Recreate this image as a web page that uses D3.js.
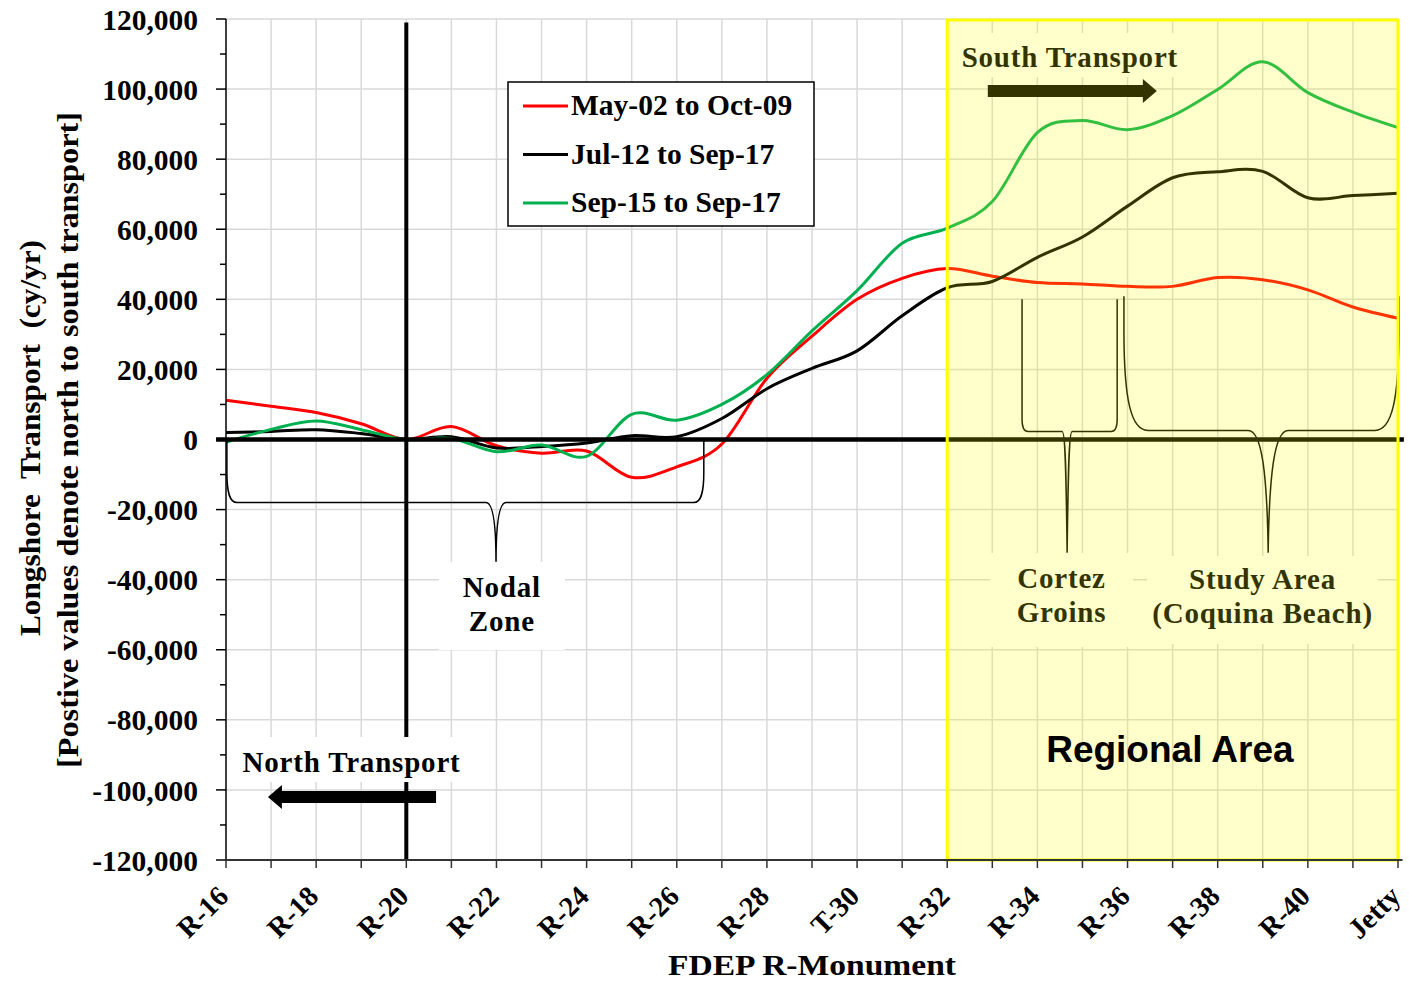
<!DOCTYPE html>
<html>
<head>
<meta charset="utf-8">
<script src="https://cdn.jsdelivr.net/npm/d3@7"></script>
<style>
  body { margin: 0; background: #fff; }
  svg text { font-family: "Liberation Serif", "Times New Roman", serif; font-weight: bold; }
</style>
</head>
<body>
<svg id="chart" width="1409" height="983"></svg>
<script>
// monuments along the shore, north to south
const monuments = ["R-16", "R-17", "R-18", "R-19", "R-20", "R-21", "R-22", "R-23", "R-24", "R-25",
    "R-26", "R-27", "R-28", "R-29", "T-30", "R-31", "R-32", "R-33", "R-34", "R-35",
    "R-36", "R-37", "R-38", "R-39", "R-40", "R-41", "Jetty"];

// longshore transport, cy/yr
const may02Oct09 = [11200, 9500, 7700, 4500, 0, 3700, -1800, -3900, -3300, -10800,
    -7800, -1300, 17500, 29500, 40000, 46000, 48800, 46600, 44800, 44400,
    43700, 43700, 46200, 45600, 42700, 37800, 34600];
const jul12Sep17 = [2000, 2300, 2800, 1700, 0, 800, -2400, -2000, -1000, 1100,
    800, 6000, 14500, 20300, 25300, 35300, 43300, 45100, 52000, 57800,
    66600, 74700, 76400, 76500, 69000, 69600, 70300];
const sep15Sep17 = [-800, 2900, 5300, 2800, 0, 300, -3500, -1600, -4800, 7200,
    5500, 10000, 18500, 31000, 42500, 56000, 60300, 67900, 87600, 91000,
    88400, 92400, 99900, 107800, 99000, 93400, 89000];

const seriesNames = ["May-02 to Oct-09", "Jul-12 to Sep-17", "Sep-15 to Sep-17"];
const seriesColors = ["#ff0000", "#000000", "#00b050"];
const yTickValues = d3.range(-120000, 120001, 20000);
const yMinorValues = d3.range(-110000, 120000, 20000);

const width = 1409;
const height = 983;
const margin = {top: 19, right: 11, bottom: 123, left: 226};

const svg = d3.select("#chart");
svg.append("rect").attr("width", width).attr("height", height).attr("fill", "#fff");

const x = d3.scalePoint()
    .domain(monuments)
    .range([margin.left, width - margin.right]);

// same positions, but by index, for the annotations that sit between monuments
const xi = d3.scaleLinear()
    .domain([0, monuments.length - 1])
    .range([margin.left, width - margin.right]);

const y = d3.scaleLinear()
    .domain([-120000, 120000])
    .range([height - margin.bottom, margin.top]);

const fmt = v => d3.format(",")(v).replace("\u2212", "-");

// grid
const grid = svg.append("g").attr("stroke", "#d9d9d9").attr("stroke-width", 1.5);
grid.selectAll(".hg").data(yTickValues).join("line")
    .attr("x1", margin.left).attr("x2", width - margin.right)
    .attr("y1", d => y(d)).attr("y2", d => y(d));
grid.selectAll(".vg").data(monuments.slice(1)).join("line")
    .attr("x1", d => x(d)).attr("x2", d => x(d))
    .attr("y1", margin.top).attr("y2", y(-120000));

// series
const line = d3.line()
    .x((d, i) => x(monuments[i]))
    .y(d => y(d))
    .curve(d3.curveCardinal.tension(0));

[may02Oct09, jul12Sep17, sep15Sep17].forEach((s, k) => {
    svg.append("path")
        .datum(s)
        .attr("d", line)
        .attr("fill", "none")
        .attr("stroke", seriesColors[k])
        .attr("stroke-width", 3);
});

// nodal line at R-20 and zero line
svg.append("line")
    .attr("x1", x("R-20")).attr("x2", x("R-20"))
    .attr("y1", y(119000)).attr("y2", y(-120000))
    .attr("stroke", "#000").attr("stroke-width", 4);
svg.append("line")
    .attr("x1", xi(-0.22)).attr("x2", xi(26.13))
    .attr("y1", y(0)).attr("y2", y(0))
    .attr("stroke", "#000").attr("stroke-width", 4.5);

// text notes with white boxes
const notes = [
    {lines: ["Nodal", "Zone"], at: [6.12, -44950], box: [126, 88, 35]},
    {lines: ["Cortez", "Groins"], at: [18.535, -42380], box: [143, 94, 35]},
    {lines: ["Study Area", "(Coquina Beach)"], at: [22.995, -42660], box: [231, 88, 33]},
    {lines: ["South Transport"], at: [18.72, 106300], box: [230, 44, 34]},
    {lines: ["North Transport"], at: [2.785, -94890], box: [230, 45, 35]}
];

notes.forEach(n => {
    const cx = xi(n.at[0]);
    const by = y(n.at[1]);
    svg.append("rect")
        .attr("x", cx - n.box[0] / 2).attr("y", by - n.box[2])
        .attr("width", n.box[0]).attr("height", n.box[1])
        .attr("fill", "#fff");
    const t = svg.append("text")
        .attr("text-anchor", "middle")
        .attr("font-size", 29)
        .attr("letter-spacing", 0.8)
        .attr("fill", "#000");
    n.lines.forEach((l, j) => {
        t.append("tspan").attr("x", cx).attr("y", by + j * 34).text(l);
    });
});

// transport arrows
function arrow(from, to, v) {
    const X0 = xi(from), X1 = xi(to), Y = y(v);
    const dir = Math.sign(X1 - X0);
    const hl = 14, hw = 12, sw = 6;
    const p = d3.path();
    p.moveTo(X0, Y - sw);
    p.lineTo(X1 - dir * hl, Y - sw);
    p.lineTo(X1 - dir * hl, Y - hw);
    p.lineTo(X1, Y);
    p.lineTo(X1 - dir * hl, Y + hw);
    p.lineTo(X1 - dir * hl, Y + sw);
    p.lineTo(X0, Y + sw);
    p.closePath();
    svg.append("path").attr("d", p.toString()).attr("fill", "#000");
}
arrow(4.66, 0.93, -102020);
arrow(16.9, 20.65, 99450);

// braces
const braces = [
    {from: 0.02, to: 10.6, tip: 5.99, arm: 0, bar: -18000, point: -34900,
        shape: {rx: 10, ry: 30, tx: 10, ty: 22, gap: 0}},
    {from: 17.66, to: 19.77, tip: 18.66, arm: 40000, bar: 2300, point: -32300,
        shape: {rx: 6, ry: 12, tx: 5, ty: 45, gap: 1}},
    {from: 19.92, to: 26.02, tip: 23.12, arm: 40900, bar: 2600, point: -32300,
        shape: {rx: 24, ry: 100, tx: 20, ty: 45, gap: 1}}
];

function bracePath(b) {
    const X0 = xi(b.from), X1 = xi(b.to), XM = xi(b.tip);
    const A = y(b.arm), B = y(b.bar), T = y(b.point);
    const d = Math.sign(B - A);
    const s = b.shape;
    const p = d3.path();
    p.moveTo(X0, A);
    p.lineTo(X0, B - d * s.ry);
    p.bezierCurveTo(X0, B - d * s.ry * 0.3, X0 + s.rx * 0.3, B, X0 + s.rx, B);
    p.lineTo(XM - s.tx, B);
    p.bezierCurveTo(XM - s.tx * 0.3, B, XM - s.gap, B + d * s.ty, XM, T);
    p.bezierCurveTo(XM + s.gap, B + d * s.ty, XM + s.tx * 0.3, B, XM + s.tx, B);
    p.lineTo(X1 - s.rx, B);
    p.bezierCurveTo(X1 - s.rx * 0.3, B, X1, B - d * s.ry * 0.3, X1, B - d * s.ry);
    p.lineTo(X1, A);
    return p.toString();
}

svg.selectAll(".brace").data(braces).join("path")
    .attr("d", bracePath)
    .attr("fill", "none")
    .attr("stroke", "#000")
    .attr("stroke-width", 1.5);

// regional area overlay
const rx0 = x("R-32"), rx1 = x("Jetty");
svg.append("rect")
    .attr("x", rx0).attr("y", margin.top)
    .attr("width", rx1 - rx0).attr("height", y(-120000) - margin.top)
    .attr("fill", "rgba(255,255,0,0.2)");

svg.append("text")
    .attr("x", xi(20.94)).attr("y", y(-92040))
    .attr("text-anchor", "middle")
    .attr("font-size", 37)
    .style("font-family", "'Liberation Sans', Arial, sans-serif")
    .text("Regional Area");

svg.append("rect")
    .attr("x", rx0).attr("y", margin.top + 1)
    .attr("width", rx1 - rx0).attr("height", y(-120000) - margin.top - 1)
    .attr("fill", "none")
    .attr("stroke", "#ffff00")
    .attr("stroke-width", 3);

// y axis
const yAxis = svg.append("g").attr("transform", `translate(${margin.left},0)`);
yAxis.append("line")
    .attr("y1", margin.top).attr("y2", y(-120000))
    .attr("stroke", "#000").attr("stroke-width", 1.5);
yAxis.selectAll(".maj").data(yTickValues).join("line")
    .attr("x1", -10).attr("x2", 0)
    .attr("y1", d => y(d)).attr("y2", d => y(d))
    .attr("stroke", "#000").attr("stroke-width", 1.5);
yAxis.selectAll(".min").data(yMinorValues).join("line")
    .attr("x1", -6).attr("x2", 0)
    .attr("y1", d => y(d)).attr("y2", d => y(d))
    .attr("stroke", "#000").attr("stroke-width", 1.5);
yAxis.selectAll("text").data(yTickValues).join("text")
    .attr("x", -28).attr("y", d => y(d)).attr("dy", "0.36em")
    .attr("text-anchor", "end")
    .attr("font-size", 29.5)
    .text(fmt);

// x axis
const xAxis = svg.append("g").attr("transform", `translate(0,${y(-120000)})`);
xAxis.append("line")
    .attr("x1", margin.left).attr("x2", xi(26.1))
    .attr("stroke", "#333").attr("stroke-width", 2);
xAxis.selectAll(".tk").data(monuments).join("line")
    .attr("x1", d => x(d)).attr("x2", d => x(d))
    .attr("y1", 0).attr("y2", 8)
    .attr("stroke", "#333").attr("stroke-width", 1.5);
xAxis.selectAll("text").data(monuments.filter((d, i) => i % 2 === 0)).join("text")
    .attr("transform", d => `translate(${x(d) + 4},38) rotate(-45)`)
    .attr("text-anchor", "end")
    .attr("font-size", 28.5)
    .text(d => d);

// axis titles
svg.append("text")
    .attr("x", 812).attr("y", 975)
    .attr("text-anchor", "middle")
    .attr("font-size", 30)
    .attr("textLength", 288)
    .attr("lengthAdjust", "spacingAndGlyphs")
    .text("FDEP R-Monument");

svg.append("text")
    .attr("transform", "translate(40,438) rotate(-90)")
    .attr("text-anchor", "middle")
    .attr("font-size", 29)
    .attr("textLength", 396)
    .attr("lengthAdjust", "spacingAndGlyphs")
    .attr("xml:space", "preserve")
    .text("Longshore  Transport  (cy/yr)");
svg.append("text")
    .attr("transform", "translate(78,440) rotate(-90)")
    .attr("text-anchor", "middle")
    .attr("font-size", 29)
    .attr("textLength", 656)
    .attr("lengthAdjust", "spacingAndGlyphs")
    .text("[Postive values denote north to south transport]");

// legend
const legend = svg.append("g").attr("transform", "translate(508,82)");
legend.append("rect")
    .attr("width", 306).attr("height", 144)
    .attr("fill", "#fff").attr("stroke", "#000").attr("stroke-width", 1.5);
seriesNames.forEach((name, k) => {
    const ly = 24 + k * 48.5;
    legend.append("line")
        .attr("x1", 15).attr("x2", 60)
        .attr("y1", ly).attr("y2", ly)
        .attr("stroke", seriesColors[k]).attr("stroke-width", 3);
    legend.append("text")
        .attr("x", 63).attr("y", ly + 9)
        .attr("font-size", 29.5)
        .text(name);
});
</script>
</body>
</html>
